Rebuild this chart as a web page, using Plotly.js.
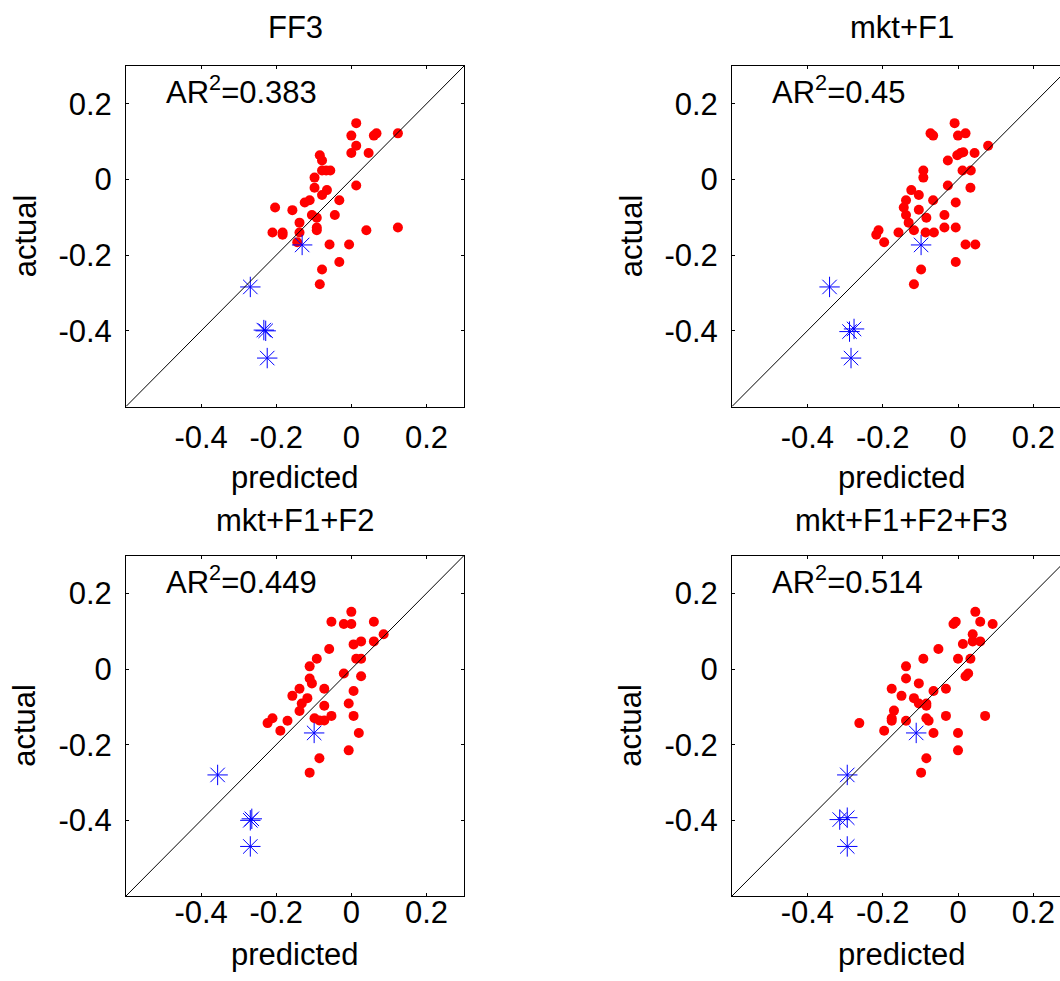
<!DOCTYPE html>
<html>
<head>
<meta charset="utf-8">
<script src="https://cdn.plot.ly/plotly-3.0.1.min.js"></script>
<style>
html, body { margin: 0; padding: 0; overflow: hidden; background: #fff; }
#chart { width: 1100px; height: 981px; }
</style>
</head>
<body>
<div id="chart"></div>
<script>
// ---------- data ----------
const modelNames = ["FF3", "mkt+F1", "mkt+F1+F2", "mkt+F1+F2+F3"];
const adjR2 = ["0.383", "0.45", "0.449", "0.514"];
const tickVals = [-0.4, -0.2, 0, 0.2];
const tickText = ["-0.4", "-0.2", "0", "0.2"];
const axisRange = [-0.6, 0.3];
const diagLine = [-0.6, 0.3];

// FF3
const predFF3 = [0.013, 0.000, 0.013, 0.000, 0.060, 0.067, 0.124, 0.046, -0.084, -0.078, -0.078, -0.067, -0.056, -0.098, -0.098, -0.065, -0.078, 0.013, -0.032, -0.111, -0.124, -0.203, -0.157, -0.105, -0.092, -0.044, -0.138, -0.092, -0.092, -0.210, -0.183, -0.183, -0.138, -0.144, 0.040, 0.124, -0.058, -0.006, -0.032, -0.078, -0.084];
const actFF3  = [0.149, 0.116, 0.089, 0.070, 0.116, 0.122, 0.122, 0.070, 0.064, 0.050, 0.024, 0.024, 0.024, 0.005, -0.022, -0.028, -0.041, -0.016, -0.055, -0.055, -0.061, -0.074, -0.081, -0.094, -0.101, -0.094, -0.114, -0.127, -0.134, -0.140, -0.140, -0.146, -0.140, -0.166, -0.134, -0.127, -0.172, -0.172, -0.218, -0.238, -0.277];
const predFF3Star = [-0.131, -0.269, -0.233, -0.228, -0.224];
const actFF3Star  = [-0.173, -0.284, -0.398, -0.400, -0.472];

// mkt+F1
const predM1 = [-0.009, -0.073, -0.066, 0.000, 0.020, 0.080, -0.002, 0.007, 0.014, 0.044, -0.027, -0.092, -0.092, 0.012, 0.034, -0.027, 0.033, -0.124, -0.104, -0.138, -0.066, -0.006, -0.144, -0.104, -0.138, -0.084, -0.036, -0.131, -0.117, -0.036, -0.006, -0.211, -0.217, -0.158, -0.086, -0.064, -0.196, 0.020, 0.046, -0.006, -0.098, -0.117];
const actM1  = [0.149, 0.122, 0.116, 0.116, 0.122, 0.089, 0.064, 0.070, 0.072, 0.070, 0.050, 0.024, 0.005, 0.024, 0.024, -0.016, -0.022, -0.028, -0.041, -0.055, -0.055, -0.061, -0.074, -0.080, -0.094, -0.101, -0.094, -0.114, -0.134, -0.127, -0.127, -0.134, -0.146, -0.140, -0.140, -0.140, -0.166, -0.172, -0.172, -0.218, -0.238, -0.277];
const predM1Star = [-0.098, -0.341, -0.288, -0.276, -0.284];
const actM1Star  = [-0.173, -0.284, -0.402, -0.395, -0.472];

// mkt+F1+F2
const predM2 = [0.000, -0.053, -0.020, 0.000, 0.060, 0.086, 0.006, 0.026, 0.060, -0.059, -0.092, 0.013, 0.026, -0.111, -0.020, 0.026, -0.111, -0.105, -0.138, -0.072, 0.006, -0.157, -0.117, -0.132, -0.072, -0.007, -0.138, -0.098, -0.085, -0.072, -0.053, 0.006, -0.210, -0.223, -0.170, -0.189, 0.020, -0.007, -0.085, -0.111];
const actM2  = [0.151, 0.125, 0.119, 0.119, 0.125, 0.092, 0.065, 0.073, 0.073, 0.053, 0.027, 0.027, 0.027, 0.007, -0.012, -0.019, -0.025, -0.038, -0.052, -0.052, -0.058, -0.071, -0.077, -0.091, -0.097, -0.091, -0.111, -0.130, -0.136, -0.136, -0.124, -0.124, -0.130, -0.143, -0.137, -0.163, -0.169, -0.215, -0.236, -0.274];
const predM2Star = [-0.099, -0.356, -0.265, -0.269, -0.269];
const actM2Star  = [-0.169, -0.280, -0.396, -0.400, -0.469];

// mkt+F1+F2+F3
const predM3 = [0.046, -0.012, -0.006, 0.059, 0.092, 0.039, 0.039, 0.059, 0.013, -0.052, -0.092, 0.000, 0.033, -0.138, 0.020, 0.027, -0.138, -0.104, -0.176, -0.065, -0.032, -0.150, -0.117, -0.104, -0.084, -0.084, -0.170, -0.176, -0.176, -0.138, -0.084, -0.078, -0.032, 0.072, -0.262, -0.196, -0.065, 0.000, 0.000, -0.084, -0.098];
const actM3  = [0.151, 0.119, 0.125, 0.125, 0.119, 0.092, 0.073, 0.073, 0.066, 0.053, 0.027, 0.027, 0.027, 0.007, -0.019, -0.012, -0.025, -0.038, -0.052, -0.058, -0.052, -0.071, -0.077, -0.091, -0.091, -0.097, -0.110, -0.130, -0.137, -0.137, -0.130, -0.137, -0.124, -0.124, -0.143, -0.163, -0.169, -0.169, -0.215, -0.236, -0.274];
const predM3Star = [-0.111, -0.294, -0.314, -0.294, -0.294];
const actM3Star  = [-0.169, -0.280, -0.398, -0.393, -0.469];

const predSets = [predFF3, predM1, predM2, predM3];
const actSets = [actFF3, actM1, actM2, actM3];
const predStarSets = [predFF3Star, predM1Star, predM2Star, predM3Star];
const actStarSets = [actFF3Star, actM1Star, actM2Star, actM3Star];

// ---------- layout constants (pixels) ----------
const W = 1100, H = 981;
const FONT = "Liberation Sans, Arial, Helvetica, sans-serif";
const FS = 31;
const colPx = [[126, 464], [732, 1071]];
const rowPx = [[66, 406.5], [555.5, 896]];
const titleY = [27, 520];
const xlabY = [477, 954];
const ylabX = [25, 631];
const xStandoff = [3, -11];

function px2x(p) { return p / W; }
function px2y(p) { return 1 - p / H; }

const traces = [];
const layout = {
  width: W, height: H,
  margin: {l: 0, r: 0, t: 0, b: 0},
  paper_bgcolor: "#fff", plot_bgcolor: "#fff",
  showlegend: false,
  font: {family: FONT, size: FS, color: "#000"},
  annotations: []
};

for (let i = 0; i < 4; i++) {
  const r = Math.floor(i / 2), c = i % 2;
  const n = i + 1;
  const xa = n === 1 ? "x" : "x" + n;
  const ya = n === 1 ? "y" : "y" + n;
  const axCommon = {
    range: axisRange, autorange: false, fixedrange: true,
    showgrid: false, zeroline: false,
    showline: true, linecolor: "#000", linewidth: 1, mirror: "ticks",
    ticks: "inside", ticklen: 3, tickwidth: 1, tickcolor: "#000",
    tickmode: "array", tickvals: tickVals, ticktext: tickText,
    tickfont: {family: FONT, size: FS, color: "#000"}
  };
  layout["xaxis" + (n === 1 ? "" : n)] = Object.assign({}, axCommon, {
    domain: [px2x(colPx[c][0]), px2x(colPx[c][1])],
    anchor: ya, ticklabelstandoff: xStandoff[r]
  });
  layout["yaxis" + (n === 1 ? "" : n)] = Object.assign({}, axCommon, {
    domain: [px2y(rowPx[r][1]), px2y(rowPx[r][0])],
    anchor: xa, ticklabelstandoff: 7
  });

  traces.push({
    type: "scatter", mode: "markers", xaxis: xa, yaxis: ya,
    x: predSets[i], y: actSets[i],
    marker: {symbol: "circle", size: 10, color: "#ff0000", line: {width: 0}},
    hoverinfo: "x+y"
  });
  traces.push({
    type: "scatter", mode: "markers", xaxis: xa, yaxis: ya,
    x: predStarSets[i], y: actStarSets[i],
    marker: {symbol: "asterisk-open", size: 17, color: "#0000ff", line: {width: 1, color: "#0000ff"}},
    hoverinfo: "x+y"
  });
  traces.push({
    type: "scatter", mode: "lines", xaxis: xa, yaxis: ya,
    x: diagLine, y: diagLine,
    line: {color: "#000", width: 1}, hoverinfo: "skip"
  });

  const cx = (colPx[c][0] + colPx[c][1]) / 2;
  const cy = (rowPx[r][0] + rowPx[r][1]) / 2;
  layout.annotations.push({
    text: modelNames[i], xref: "paper", yref: "paper",
    x: px2x(cx), y: px2y(titleY[r]), xanchor: "center", yanchor: "middle",
    showarrow: false, font: {family: FONT, size: FS, color: "#000"}
  });
  layout.annotations.push({
    text: "predicted", xref: "paper", yref: "paper",
    x: px2x(cx), y: px2y(xlabY[r]), xanchor: "center", yanchor: "middle",
    showarrow: false, font: {family: FONT, size: FS, color: "#000"}
  });
  layout.annotations.push({
    text: "actual", xref: "paper", yref: "paper", textangle: -90,
    x: px2x(ylabX[c]), y: px2y(cy), xanchor: "center", yanchor: "middle",
    showarrow: false, font: {family: FONT, size: FS, color: "#000"}
  });
  layout.annotations.push({
    text: "AR<sup>2</sup>=" + adjR2[i], xref: xa, yref: ya,
    x: -0.5, y: 0.236, xanchor: "left", yanchor: "middle",
    showarrow: false, font: {family: FONT, size: FS, color: "#000"}
  });
}

Plotly.newPlot("chart", traces, layout, {staticPlot: true, responsive: false, displayModeBar: false});
</script>
</body>
</html>
